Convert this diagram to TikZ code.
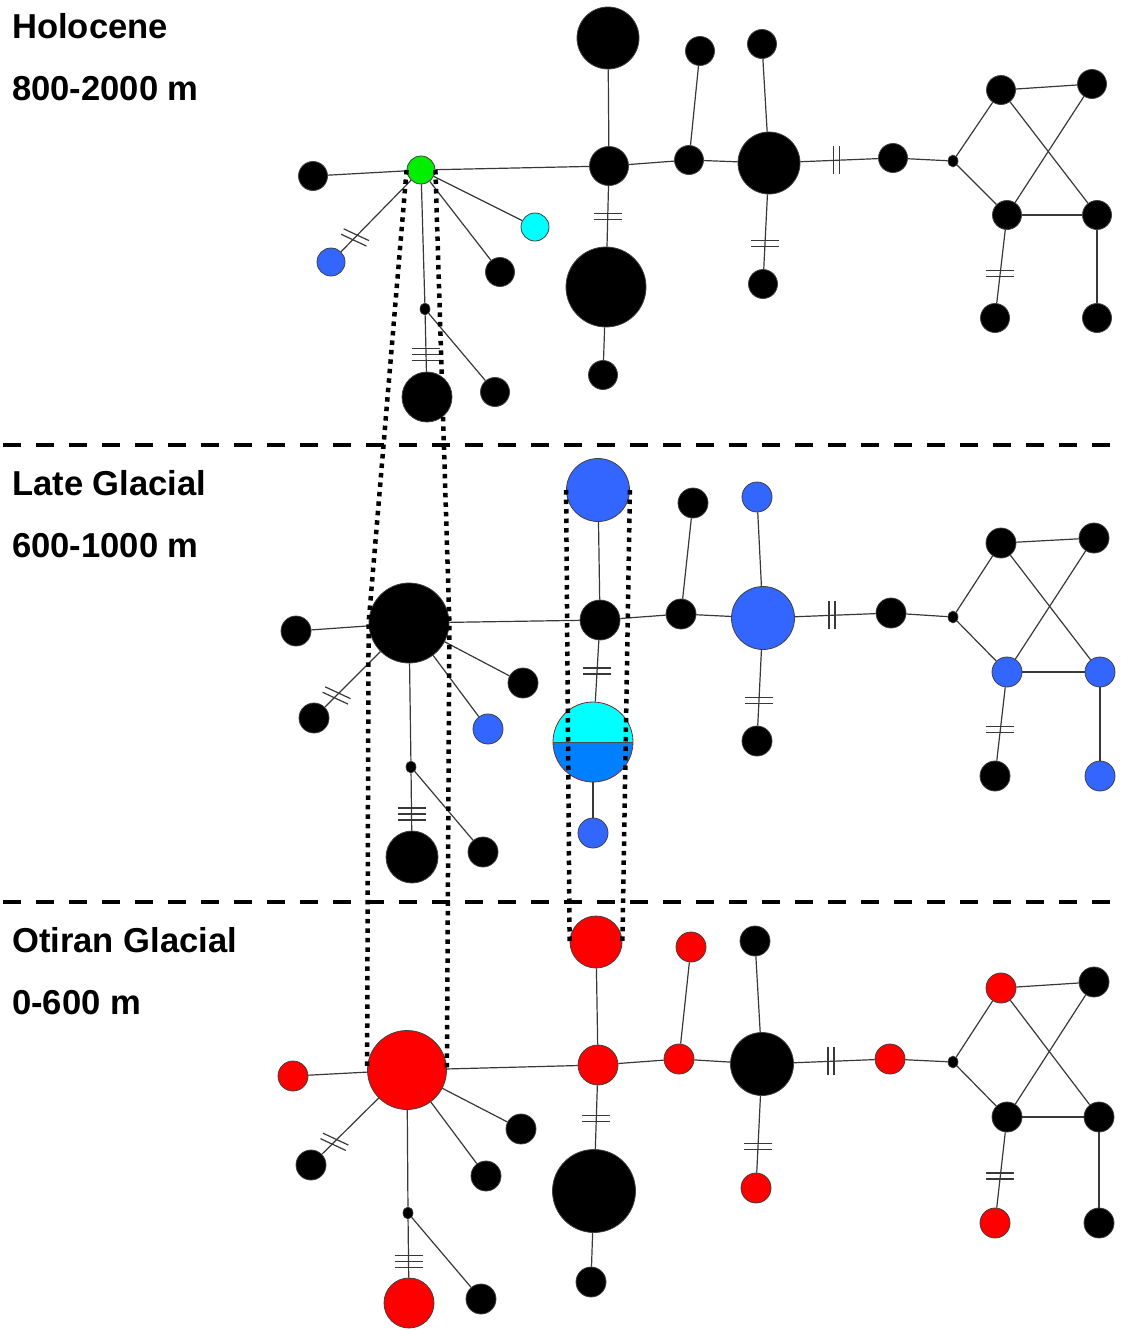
\documentclass[tikz,border=0pt]{standalone}
\usepackage{fontspec}
\setmainfont{Liberation Sans}
\usetikzlibrary{shapes.geometric}
\definecolor{hapgreen}{HTML}{00EE00}
\definecolor{hapblue}{HTML}{3366FF}
\definecolor{hapcyan}{HTML}{00FFFF}
\definecolor{hapred}{HTML}{FF0000}
\definecolor{pieblue}{HTML}{0080FF}
\definecolor{piebrown}{HTML}{7A2A2A}
\definecolor{edgegray}{HTML}{383838}
\tikzset{
  hap/.style={circle, draw=black!75, line width=0.8pt, inner sep=0pt, minimum size=2*#1},
  blk/.style={hap=#1, fill=black},
  blu/.style={hap=#1, fill=hapblue},
  red/.style={hap=#1, fill=hapred},
  mv/.style={ellipse, fill=black, draw=black!75, line width=0.6pt, inner sep=0pt, minimum width=10pt, minimum height=12pt},
  edge/.style={draw=edgegray, line width=1.2pt},
  hashline/.style={draw=edgegray, line width=1.2pt},
  linkline/.style={draw=black, line width=4.5pt, dash pattern=on 4.5pt off 5pt},
  sepline/.style={draw=black, line width=4pt, dash pattern=on 18pt off 15pt},
  lbl/.style={font=\fontsize{34.6}{40}\selectfont\bfseries, inner sep=0pt, anchor=base west},
  hash two/.pic={\draw[hashline] (-14,-3) -- (14,-3) (-14,3) -- (14,3);},
  hash three/.pic={\draw[hashline] (-14,-6) -- (14,-6) (-14,0) -- (14,0) (-14,6) -- (14,6);},
}
\begin{document}
\begin{tikzpicture}[x=1pt,y=-1pt]
\useasboundingbox (0,0) rectangle (1120,1331);

% separators between the three altitude bands
\coordinate (s1l) at (3,445);   \coordinate (s1r) at (1120,445);
\coordinate (s2l) at (3,902);   \coordinate (s2r) at (1120,902);
\draw[sepline] (s1l) -- (s1r);
\draw[sepline] (s2l) -- (s2r);

% band labels
\node[lbl] (t1a) at (12,38) {Holocene};
\node[lbl] (t1b) at (12,100) {800-2000 m};
\node[lbl] (t2a) at (12,495) {Late Glacial};
\node[lbl] (t2b) at (12,557) {600-1000 m};
\node[lbl] (t3a) at (12,952) {Otiran Glacial};
\node[lbl] (t3b) at (12,1014) {0-600 m};

% ================= Holocene network =================
\node[blk=14.5] (l1) at (313,176) {};
\node[hap=14, fill=hapgreen] (h1) at (421,170) {};
\node[blu=14] (q1) at (331,262) {};
\node[hap=14, fill=hapcyan] (u1) at (535,227) {};
\node[blk=14.5] (w1) at (500,272) {};
\node[mv] (v1) at (425,309) {};
\node[blk=25] (d1) at (427,397) {};
\node[blk=14.5] (e1) at (495,392) {};
\node[blk=31] (at1) at (608,38) {};
\node[blk=19.5] (a1) at (609,166) {};
\node[blk=40] (ab1) at (606,287) {};
\node[blk=14.5] (abb1) at (603,375) {};
\node[blk=14.5] (b1) at (689,160) {};
\node[blk=14.5] (bt1) at (700,51) {};
\node[blk=31] (c1) at (769,163) {};
\node[blk=14.5] (ct1) at (762,44) {};
\node[blk=14.5] (cb1) at (763,284) {};
\node[blk=14.5] (dd1) at (893,158) {};
\node[mv] (mv1) at (953,161) {};
\node[blk=14.5] (ne1) at (1001,90) {};
\node[blk=14.5] (nf1) at (1092,84) {};
\node[blk=14.5] (ng1) at (1007,215) {};
\node[blk=14.5] (nh1) at (1097,215) {};
\node[blk=14.5] (ni1) at (995,318) {};
\node[blk=14.5] (nj1) at (1097,318) {};

% ================= Late Glacial network =================
\node[blk=15] (l2) at (296,631) {};
\node[blk=40] (h2) at (409,623) {};
\node[blk=15] (q2) at (314,718) {};
\node[blk=15] (u2) at (523,683) {};
\node[blu=15] (w2) at (488,729) {};
\node[mv] (v2) at (411,767) {};
\node[blk=26] (d2) at (412,857) {};
\node[blk=15] (e2) at (483,852) {};
\node[blu=31.5] (at2) at (598,490) {};
\node[blk=20] (a2) at (600,620) {};
\node[hap=40, draw=piebrown, path picture={
  \fill[hapcyan] (path picture bounding box.north west) rectangle (path picture bounding box.east);
  \fill[pieblue] (path picture bounding box.west) rectangle (path picture bounding box.south east);
  \draw[black!70, line width=0.8pt] (path picture bounding box.west) -- (path picture bounding box.east);
}] (ab2) at (593,742) {};
\node[blu=15] (abb2) at (593,833) {};
\node[blk=15] (b2) at (681,614) {};
\node[blk=15] (bt2) at (693,503) {};
\node[blu=31.5] (c2) at (763,618) {};
\node[blu=15] (ct2) at (757,497) {};
\node[blk=15] (cb2) at (757,741) {};
\node[blk=15] (dd2) at (891,613) {};
\node[mv] (mv2) at (953,617) {};
\node[blk=15] (ne2) at (1001,543) {};
\node[blk=15] (nf2) at (1094,538) {};
\node[blu=15] (ng2) at (1007,672) {};
\node[blu=15] (nh2) at (1100,672) {};
\node[blk=15] (ni2) at (995,776) {};
\node[blu=15] (nj2) at (1100,776) {};

% ================= Otiran Glacial network =================
\node[red=15] (l3) at (293,1076) {};
\node[red=39.5] (h3) at (407,1070) {};
\node[blk=15] (q3) at (311,1165) {};
\node[blk=15] (u3) at (521,1129) {};
\node[blk=15] (w3) at (486,1176) {};
\node[mv] (v3) at (408,1213) {};
\node[red=25] (d3) at (409,1303) {};
\node[blk=15] (e3) at (481,1299) {};
\node[red=26] (at3) at (596,942) {};
\node[red=20] (a3) at (598,1065) {};
\node[blk=41.5] (ab3) at (594,1191) {};
\node[blk=15] (abb3) at (591,1282) {};
\node[red=15] (b3) at (679,1059) {};
\node[red=15] (bt3) at (691,947) {};
\node[blk=31.5] (c3) at (762,1064) {};
\node[blk=15] (ct3) at (755,941) {};
\node[red=15] (cb3) at (756,1188) {};
\node[red=15] (dd3) at (890,1059) {};
\node[mv] (mv3) at (953,1062) {};
\node[red=15] (ne3) at (1001,988) {};
\node[blk=15] (nf3) at (1094,982) {};
\node[blk=15] (ng3) at (1007,1117) {};
\node[blk=15] (nh3) at (1099,1117) {};
\node[red=15] (ni3) at (995,1223) {};
\node[blk=15] (nj3) at (1099,1223) {};

% connectors, the same topology in every band
\foreach \i/\pq/\pv/\pa/\pc/\pd/\pg in {1/0.80/0.70/0.50/0.66/0.46/0.59,
                                         2/0.79/0.71/0.50/0.67/0.46/0.57,
                                         3/0.78/0.73/0.52/0.66/0.46/0.58}{
  \draw[edge] (l\i) -- (h\i);
  \draw[edge] (h\i) -- (a\i);
  \draw[edge] (h\i) -- coordinate[pos=\pq] (hq\i) (q\i);
  \draw[edge] (h\i) -- (u\i);
  \draw[edge] (h\i) -- (w\i);
  \draw[edge] (h\i) -- (v\i);
  \draw[edge] (v\i) -- coordinate[pos=\pv] (hv\i) (d\i);
  \draw[edge] (v\i) -- (e\i);
  \draw[edge] (a\i) -- (at\i);
  \draw[edge] (a\i) -- coordinate[pos=\pa] (ha\i) (ab\i);
  \draw[edge] (ab\i) -- (abb\i);
  \draw[edge] (a\i) -- (b\i);
  \draw[edge] (b\i) -- (bt\i);
  \draw[edge] (b\i) -- (c\i);
  \draw[edge] (c\i) -- (ct\i);
  \draw[edge] (c\i) -- coordinate[pos=\pc] (hc\i) (cb\i);
  \draw[edge] (c\i) -- coordinate[pos=\pd] (hd\i) (dd\i);
  \draw[edge] (dd\i) -- (mv\i);
  \draw[edge] (mv\i) -- (ne\i);
  \draw[edge] (mv\i) -- (ng\i);
  \draw[edge] (ne\i) -- (nf\i);
  \draw[edge] (ne\i) -- (nh\i);
  \draw[edge] (nf\i) -- (ng\i);
  \draw[edge] (ng\i) -- (nh\i);
  \draw[edge] (ng\i) -- coordinate[pos=\pg] (hg\i) (ni\i);
  \draw[edge] (nh\i) -- (nj\i);
  % mutation marks
  \pic[rotate=-25] at (hq\i) {hash two};
  \pic at (hv\i) {hash three};
  \pic at (ha\i) {hash two};
  \pic at (hc\i) {hash two};
  \pic[rotate=90] at (hd\i) {hash two};
  \pic at (hg\i) {hash two};
}

% shared haplotypes linked across bands
\draw[linkline] (h1.west) -- (h2.west) -- (h3.west);
\draw[linkline] (h1.east) -- (h2.east) -- (h3.east);
\draw[linkline] (at2.west) -- (at3.west);
\draw[linkline] (at2.east) -- (at3.east);
\end{tikzpicture}
\end{document}
